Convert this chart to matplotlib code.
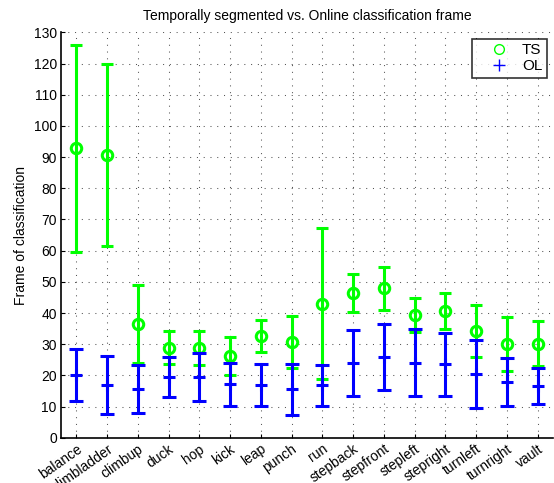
import matplotlib
matplotlib.use("Agg")
import matplotlib.pyplot as plt
from matplotlib.lines import Line2D
import numpy as np

plt.rcParams['font.family'] = ['Liberation Sans', 'DejaVu Sans']

categories = ["balance", "climbladder", "climbup", "duck", "hop", "kick", "leap",
              "punch", "run", "stepback", "stepfront", "stepleft", "stepright",
              "turnleft", "turnright", "vault"]
ts_mean = [92.8, 90.7, 36.5, 28.9, 28.7, 26.2, 32.6, 30.7, 43.0, 46.5, 47.9,
           39.3, 40.7, 34.3, 30.0, 30.2]
ts_err = [33.3, 29.3, 12.5, 5.2, 5.5, 6.1, 5.0, 8.5, 24.3, 6.1, 7.0, 5.4, 5.7,
          8.4, 8.6, 7.2]
ol_mean = [20.2, 16.9, 15.5, 19.6, 19.6, 17.1, 17.0, 15.5, 16.8, 24.1, 25.9,
           24.1, 23.5, 20.4, 17.8, 16.5]
ol_err = [8.3, 9.3, 7.7, 6.4, 7.7, 7.0, 6.7, 8.1, 6.5, 10.6, 10.7, 10.7, 10.1,
          11.0, 7.7, 5.8]
yticks = list(range(0, 131, 10))

fig = plt.figure(figsize=(5.54, 4.83), dpi=100)
ax = fig.add_axes([0.110, 0.0938, 0.888, 0.839])

x = np.arange(1, len(categories) + 1)
green = (0, 1, 0)
blue = (0, 0, 1)

ax.errorbar(x, ts_mean, yerr=ts_err, fmt='o', color=green, mfc='none',
            mec=green, ms=7.5, mew=2.2, elinewidth=2.2, capsize=4, capthick=2.2,
            zorder=3)
ax.errorbar(x, ol_mean, yerr=ol_err, fmt='+', color=blue, ms=8, mew=2.2,
            elinewidth=2.2, capsize=5, capthick=2.2, zorder=4)

ax.set_xlim(0.5, 16.5)
ax.set_ylim(0, 130)
ax.set_yticks(yticks)
ax.set_xticks(x)
ax.set_xticklabels(categories, rotation=35, ha='right', va='top',
                   rotation_mode='anchor', fontsize=10)
ax.tick_params(axis='y', labelsize=10, direction='in', length=3, pad=3)
ax.tick_params(axis='x', direction='in', length=3, pad=3)
ax.grid(True, linestyle=(0, (1, 5.5)), color='#555555', linewidth=0.75)
ax.set_axisbelow(True)
for s in ['top', 'right']:
    ax.spines[s].set_visible(False)
for s in ['left', 'bottom']:
    ax.spines[s].set_linewidth(1.2)

ax.set_ylabel("Frame of classification", fontsize=10, labelpad=4)
ax.set_title("Temporally segmented vs. Online classification frame", fontsize=10,
             pad=9)

handles = [Line2D([], [], linestyle='none', marker='o', mfc='none', mec=green,
                  ms=7, mew=1),
           Line2D([], [], linestyle='none', marker='+', color=blue, ms=8,
                  mew=1)]
leg = ax.legend(handles, ["TS", "OL"], loc='upper right', fontsize=11,
                frameon=True, fancybox=False, edgecolor='black',
                bbox_to_anchor=(0.988, 0.985), borderaxespad=0,
                handlelength=3.0, handletextpad=0.0, borderpad=0.3,
                labelspacing=0.15)
leg.get_frame().set_linewidth(1.2)

fig.savefig("out.png", dpi=100)
